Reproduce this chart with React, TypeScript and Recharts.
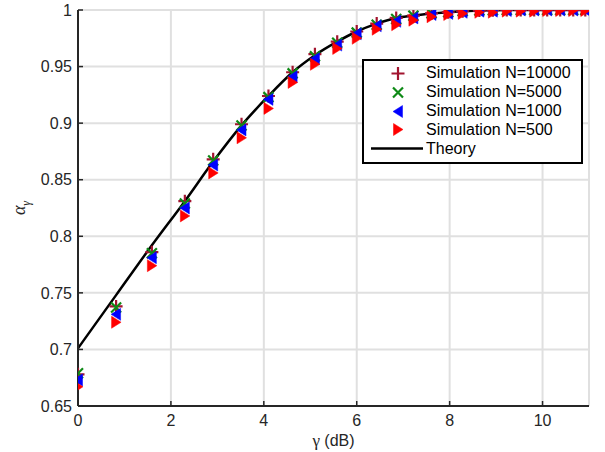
import React from 'react';
import {
  ComposedChart,
  Scatter,
  Line,
  XAxis,
  YAxis,
  CartesianGrid,
  Legend,
} from 'recharts';

// gamma in dB
const gammaDb = [
  0, 0.82, 1.59, 2.3, 2.91, 3.52, 4.1, 4.62, 5.1, 5.58, 6.0, 6.43, 6.85, 7.22,
  7.61, 7.97, 8.28, 8.64, 8.93, 9.23, 9.53, 9.82, 10.1, 10.38, 10.66, 10.92,
];

const simN10000 = [
  0.678, 0.738, 0.786, 0.831, 0.868, 0.899, 0.924, 0.945, 0.961, 0.972, 0.981,
  0.988, 0.993, 0.995, 0.997, 0.998, 0.999, 0.9995, 0.9998, 1, 1, 1, 1, 1, 1, 1,
];
const simN5000 = [
  0.679, 0.737, 0.785, 0.829, 0.867, 0.898, 0.923, 0.944, 0.959, 0.971, 0.98,
  0.987, 0.992, 0.995, 0.997, 0.998, 0.999, 0.9995, 0.9998, 1, 1, 1, 1, 1, 1, 1,
];
const simN1000 = [
  0.673, 0.731, 0.781, 0.825, 0.863, 0.894, 0.921, 0.941, 0.957, 0.969, 0.979,
  0.986, 0.99, 0.993, 0.996, 0.997, 0.998, 0.999, 0.999, 0.9995, 1, 1, 1, 1, 1, 1,
];
const simN500 = [
  0.667, 0.724, 0.774, 0.818, 0.856, 0.887, 0.913, 0.936, 0.952, 0.966, 0.975,
  0.983, 0.987, 0.991, 0.994, 0.996, 0.997, 0.998, 0.998, 0.999, 0.999, 0.999,
  0.9995, 0.9995, 0.9995, 0.9995,
];
const theory = [
  0.701, 0.748, 0.792, 0.831, 0.866, 0.898, 0.924, 0.945, 0.96, 0.972, 0.981,
  0.988, 0.993, 0.995, 0.997, 0.998, 0.999, 0.9995, 0.9998, 1, 1, 1, 1, 1, 1, 1,
];

const xTicks = [0, 2, 4, 6, 8, 10];
const yTicks = [0.65, 0.7, 0.75, 0.8, 0.85, 0.9, 0.95, 1];

const toPoints = (ys: number[]) => gammaDb.map((x, i) => ({ x, y: ys[i] }));

const FONT = '"Liberation Sans", Arial, Helvetica, sans-serif';
const AXIS = '#262626';

type MarkProps = { cx?: number; cy?: number; color: string };

const PlusMark = ({ cx = 0, cy = 0, color }: MarkProps) => (
  <path
    d={`M${cx - 6.5},${cy}H${cx + 6.5}M${cx},${cy - 6.5}V${cy + 6.5}`}
    stroke={color}
    strokeWidth={2.2}
    fill="none"
  />
);

const CrossMark = ({ cx = 0, cy = 0, color }: MarkProps) => (
  <path
    d={`M${cx - 5},${cy - 5}L${cx + 5},${cy + 5}M${cx - 5},${cy + 5}L${cx + 5},${cy - 5}`}
    stroke={color}
    strokeWidth={2.2}
    fill="none"
  />
);

const LeftTri = ({ cx = 0, cy = 0, color }: MarkProps) => (
  <path
    d={`M${cx - 5},${cy}L${cx + 4.5},${cy - 6}L${cx + 4.5},${cy + 6}Z`}
    fill={color}
    stroke={color}
    strokeWidth={0.5}
  />
);

const RightTri = ({ cx = 0, cy = 0, color }: MarkProps) => (
  <path
    d={`M${cx + 5},${cy}L${cx - 4.5},${cy - 6}L${cx - 4.5},${cy + 6}Z`}
    fill={color}
    stroke={color}
    strokeWidth={0.5}
  />
);

const series = [
  { name: 'Simulation N=10000', values: simN10000, color: '#A2142F', Mark: PlusMark },
  { name: 'Simulation N=5000', values: simN5000, color: '#0E8A16', Mark: CrossMark },
  { name: 'Simulation N=1000', values: simN1000, color: '#0000FF', Mark: LeftTri },
  { name: 'Simulation N=500', values: simN500, color: '#FF0000', Mark: RightTri },
];

const LegendBox = () => (
  <div
    style={{
      background: '#fff',
      border: '2px solid #000',
      padding: '3px 0 4px 0',
      fontFamily: FONT,
      fontSize: 16,
      color: '#000',
      boxSizing: 'border-box',
      width: 221,
    }}
  >
    {series.map((s) => (
      <div key={s.name} style={{ display: 'flex', alignItems: 'center', height: 18.8 }}>
        <svg width={62} height={19} style={{ flex: 'none' }}>
          <s.Mark cx={34} cy={9.5} color={s.color} />
        </svg>
        <span style={{ whiteSpace: 'nowrap', lineHeight: '18px' }}>{s.name}</span>
      </div>
    ))}
    <div style={{ display: 'flex', alignItems: 'center', height: 18.8 }}>
      <svg width={62} height={19} style={{ flex: 'none' }}>
        <line x1={7} x2={59} y1={9.5} y2={9.5} stroke="#000" strokeWidth={2.5} />
      </svg>
      <span style={{ lineHeight: '18px' }}>Theory</span>
    </div>
  </div>
);

const YLabel = ({ viewBox }: any) => {
  const cx = viewBox.x + 25;
  const cy = viewBox.y + viewBox.height / 2;
  return (
    <text
      transform={`translate(${cx},${cy}) rotate(-90)`}
      textAnchor="middle"
      fill={AXIS}
      fontFamily='"Liberation Serif", "DejaVu Serif", serif'
    >
      <tspan fontSize={18} fontStyle="italic">α</tspan>
      <tspan fontSize={12} dy={5} fontStyle="italic">γ</tspan>
    </text>
  );
};

const XLabel = ({ viewBox }: any) => {
  const cx = viewBox.x + viewBox.width / 2;
  return (
    <text x={cx} y={viewBox.y + 40} textAnchor="middle" fill={AXIS} fontFamily={FONT} fontSize={16}>
      <tspan fontFamily='"Liberation Serif", "DejaVu Serif", serif' fontSize={17}>γ</tspan>
      <tspan> (dB)</tspan>
    </text>
  );
};

export default function App() {
  const axisLine = { stroke: AXIS, strokeWidth: 2 };
  const tickLine = { stroke: AXIS, strokeWidth: 1.5 };
  const tickStyle = { fill: AXIS, fontSize: 16, fontFamily: FONT };

  return (
    <div style={{ position: 'absolute', left: 0, top: 0, width: 605, height: 452, background: '#fff' }}>
      <ComposedChart width={605} height={452} margin={{ top: 10, right: 16, bottom: 16, left: 0 }}>
        <CartesianGrid stroke="#e0e0e0" strokeWidth={2} />
        <XAxis
          type="number"
          dataKey="x"
          domain={[0, 11]}
          ticks={xTicks}
          allowDataOverflow
          height={30}
          axisLine={axisLine}
          tickLine={tickLine}
          tickSize={-5}
          tickMargin={14}
          tick={tickStyle}
          label={{ content: <XLabel /> }}
        />
        <XAxis
          xAxisId="top"
          orientation="top"
          type="number"
          domain={[0, 11]}
          ticks={xTicks}
          allowDataOverflow
          height={0}
          axisLine={axisLine}
          tickLine={tickLine}
          tickSize={-5}
          tick={false}
        />
        <YAxis
          type="number"
          domain={[0.65, 1]}
          ticks={yTicks}
          allowDataOverflow
          width={78}
          axisLine={axisLine}
          tickLine={tickLine}
          tickSize={-5}
          tickMargin={11}
          tick={tickStyle}
          label={{ content: <YLabel /> }}
        />
        <YAxis
          yAxisId="right"
          orientation="right"
          type="number"
          domain={[0.65, 1]}
          ticks={yTicks}
          allowDataOverflow
          width={0}
          axisLine={axisLine}
          tickLine={tickLine}
          tickSize={-5}
          tick={false}
        />
        {series.map((s) => (
          <Scatter
            key={s.name}
            name={s.name}
            data={toPoints(s.values)}
            dataKey="y"
            isAnimationActive={false}
            shape={(p: any) => <s.Mark cx={p.cx} cy={p.cy} color={s.color} />}
          />
        ))}
        <Line
          name="Theory"
          data={toPoints(theory)}
          dataKey="y"
          type="monotone"
          stroke="#000"
          strokeWidth={2.5}
          dot={false}
          activeDot={false}
          isAnimationActive={false}
        />
        <Legend
          layout="vertical"
          align="center"
          verticalAlign="middle"
          content={<LegendBox />}
          wrapperStyle={{ left: 362, top: 59, width: 221 }}
        />
      </ComposedChart>
    </div>
  );
}
